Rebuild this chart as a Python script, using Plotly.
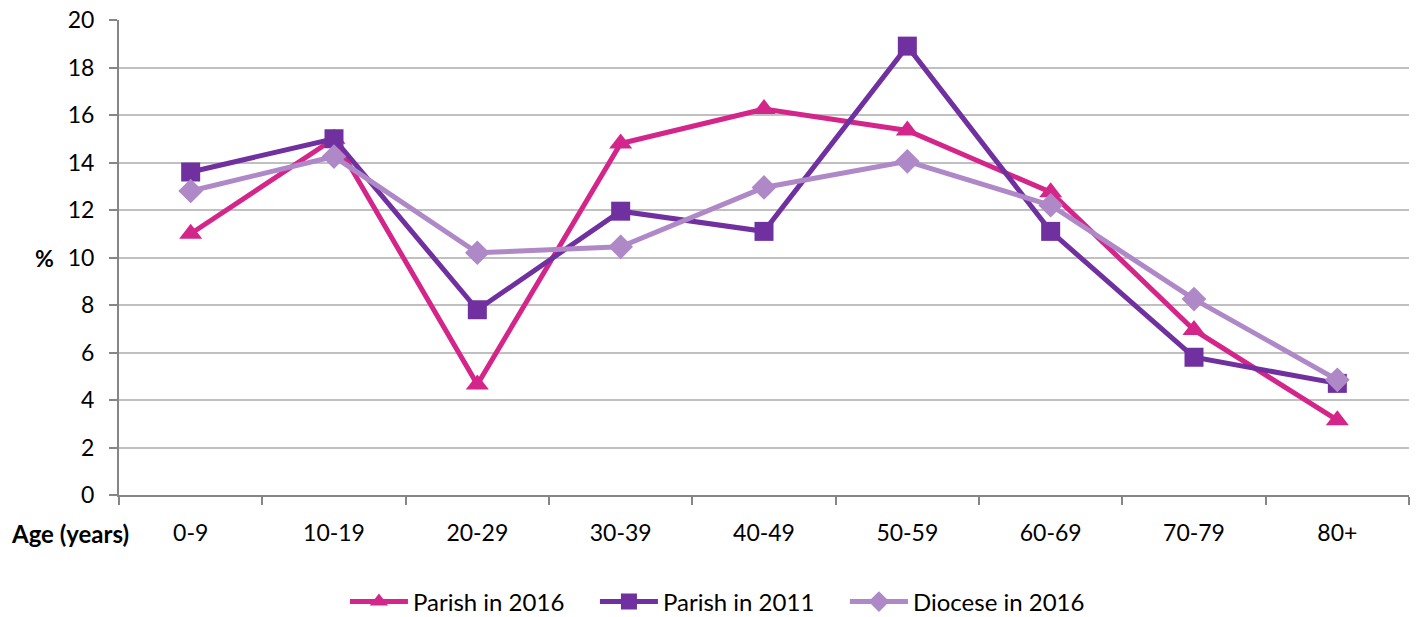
import plotly.graph_objects as go

categories = ["0-9", "10-19", "20-29", "30-39", "40-49", "50-59", "60-69", "70-79", "80+"]
parish_2016 = [11.0, 15.0, 4.65, 14.8, 16.25, 15.35, 12.75, 6.95, 3.15]
parish_2011 = [13.6, 15.0, 7.8, 11.95, 11.1, 18.9, 11.1, 5.8, 4.7]
diocese_2016 = [12.8, 14.25, 10.2, 10.45, 12.95, 14.05, 12.2, 8.25, 4.85]
y_ticks = [0, 2, 4, 6, 8, 10, 12, 14, 16, 18, 20]

FONT = "Lato, 'Open Sans', sans-serif"

fig = go.Figure()
series = [
    ("Parish in 2016", parish_2016, "#D4268A", "triangle-up", 20),
    ("Parish in 2011", parish_2011, "#7030A0", "square", 19),
    ("Diocese in 2016", diocese_2016, "#AF88C8", "diamond", 19),
]
for name, vals, color, sym, size in series:
    fig.add_trace(go.Scatter(
        x=categories, y=vals, name=name, mode="lines+markers",
        line=dict(color=color, width=5),
        marker=dict(symbol=sym, size=size, color=color),
    ))

fig.update_layout(
    width=1420, height=617,
    margin=dict(l=119, r=11, t=20, b=122),
    paper_bgcolor="white", plot_bgcolor="white",
    font=dict(family=FONT, size=23, color="black"),
    showlegend=True,
    legend=dict(orientation="h", xref="container", yref="container",
                x=0.507, xanchor="center", y=0.0243, yanchor="middle",
                font=dict(size=24), tracegroupgap=0, itemwidth=58,
                entrywidth=177, entrywidthmode="pixels"),
    xaxis=dict(
        type="category", range=[-0.5, 8.5], automargin=False,
        showline=True, linecolor="#868686", linewidth=2,
        ticks="outside", tickson="boundaries", ticklen=8, tickcolor="#868686", tickwidth=2,
        showgrid=False, tickfont=dict(size=23), ticklabelstandoff=16,
    ),
    yaxis=dict(
        range=[0, 20], tickvals=y_ticks, automargin=False,
        showline=True, linecolor="#868686", linewidth=2,
        ticks="outside", ticklen=8, tickcolor="#868686", tickwidth=2,
        showgrid=True, gridcolor="#C0C0C0", gridwidth=2,
        tickfont=dict(size=23), zeroline=False, ticklabelstandoff=10,
    ),
)

fig.add_annotation(text="<b>%</b>", xref="paper", yref="paper", x=-0.058, y=0.5,
                   xanchor="center", yanchor="middle", showarrow=False,
                   font=dict(size=23, family=FONT))
fig.add_annotation(text="<b>Age (years)</b>", xref="paper", yref="paper", x=-0.038, y=-0.08,
                   xanchor="center", yanchor="middle", showarrow=False,
                   font=dict(size=24, family=FONT))

fig.write_html("out.html", config={"displayModeBar": False},
               post_script="document.body.style.margin='0';document.body.style.overflow='hidden';")
